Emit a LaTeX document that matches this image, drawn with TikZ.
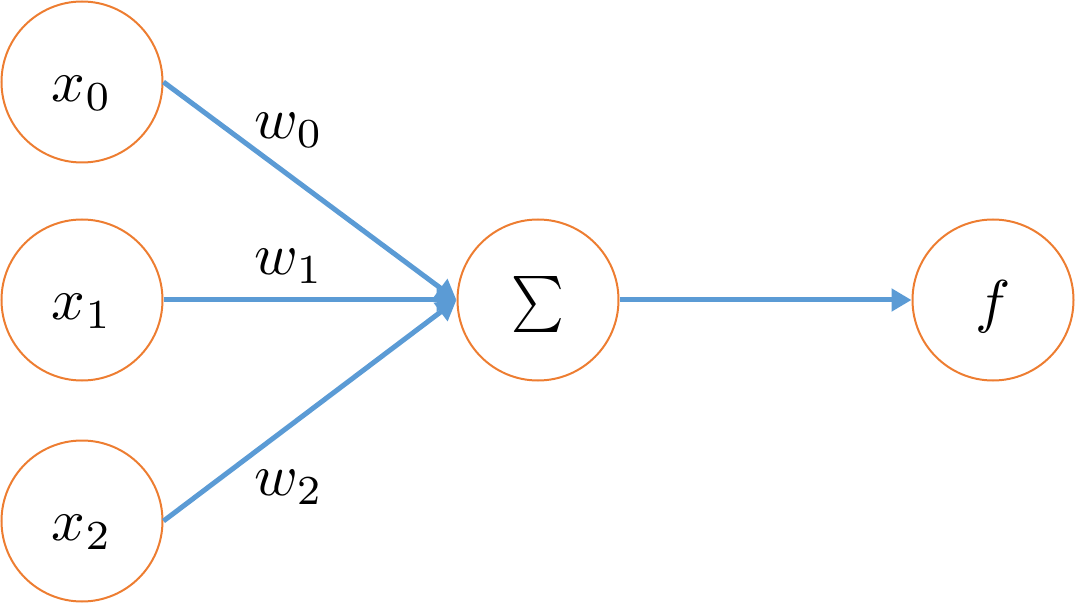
\documentclass[tikz,border=0pt]{standalone}
\usepackage{graphicx}
\usetikzlibrary{arrows.meta}
\definecolor{orng}{HTML}{ED7D31}
\definecolor{blu}{HTML}{5B9BD5}
\newcommand{\hugemath}[1]{\scalebox{5.9}{$#1$}}
\begin{document}
\begin{tikzpicture}[x=1pt,y=-1pt,
  neuron/.style={circle,draw=orng,line width=2pt,minimum size=161pt,inner sep=0pt},
  conn/.style={draw=blu,line width=5pt,-{Triangle[length=20pt,width=22pt]}},
  lbl/.style={inner sep=0pt}]
\useasboundingbox (0,0) rectangle (1077,604);
\node[neuron] (x0) at (82,82) {};
\node[neuron] (x1) at (82,300) {};
\node[neuron] (x2) at (82,521) {};
\node[neuron] (s) at (538,300) {};
\node[neuron] (f) at (993,300) {};
\node[lbl] (tx0) at ([yshift=-11pt]x0.center) {\hugemath{x_0}};
\node[lbl] (tx1) at ([yshift=-11pt]x1.center) {\hugemath{x_1}};
\node[lbl] (tx2) at ([yshift=-11pt]x2.center) {\hugemath{x_2}};
\node[lbl] (ts) at ([yshift=-5pt]s.center) {\scalebox{5.0}[5.6]{$\textstyle\sum$}};
\node[lbl] (tf) at ([yshift=-7pt]f.center) {\hugemath{f}};
\draw[conn] (x0.east) -- (s.west);
\draw[conn] (x1.east) -- (s.west);
\draw[conn] (x2.east) -- (s.west);
\draw[conn] (s.east) -- (f.west);
\node[lbl] (w0) at (289,130) {\hugemath{w_0}};
\node[lbl] (w1) at (289,266) {\hugemath{w_1}};
\node[lbl] (w2) at (289,487) {\hugemath{w_2}};
\end{tikzpicture}
\end{document}
